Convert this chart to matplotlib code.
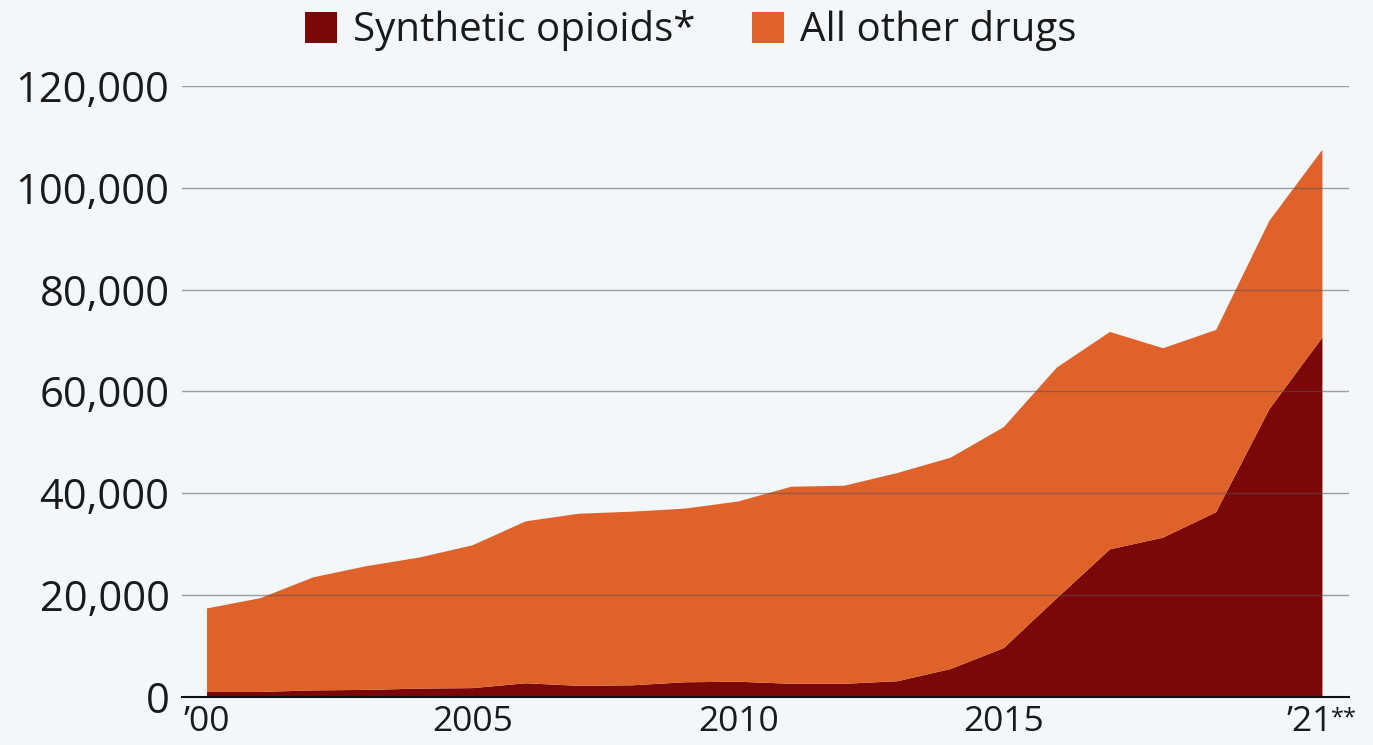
import matplotlib
matplotlib.use("Agg")
import matplotlib.pyplot as plt
import matplotlib.transforms as mtransforms
from matplotlib.patches import Patch
from matplotlib.ticker import FuncFormatter

plt.rcParams['font.family'] = ['Open Sans', 'DejaVu Sans']

years = list(range(2000, 2022))
synthetic = [1000, 1000, 1300, 1400, 1650, 1750, 2700, 2200, 2300, 2900, 3000,
             2600, 2600, 3100, 5500, 9600, 19400, 29000, 31300, 36300, 56500, 70600]
total = [17400, 19400, 23500, 25700, 27400, 29800, 34500, 36000, 36400, 37000, 38400,
         41300, 41500, 44000, 47000, 53000, 64700, 71700, 68500, 72100, 93500, 107500]
other = [t - s for t, s in zip(total, synthetic)]

series_names = ["Synthetic opioids*", "All other drugs"]
colors = ["#7c0708", "#e0622b"]
yticks = [0, 20000, 40000, 60000, 80000, 100000, 120000]
xticks = [2000, 2005, 2010, 2015, 2021]
xticklabels = ["\u201900", "2005", "2010", "2015", "\u201921"]
last_note = "**"

bg = "#f3f7fa"
fig = plt.figure(figsize=(13.73, 7.45), dpi=100, facecolor=bg)
ax = fig.add_axes([0.1326, 0.0644, 0.8499, 0.8202], facecolor=bg)

ax.stackplot(years, synthetic, other, colors=colors, linewidth=0, zorder=1)

ax.set_xlim(1999.53, 2021.5)
ax.set_ylim(0, 120000)
ax.set_yticks(yticks)
ax.set_xticks(xticks)
ax.set_xticklabels(xticklabels)
ax.yaxis.set_major_formatter(FuncFormatter(lambda v, p: f"{int(v):,}"))

for y in yticks[1:]:
    ax.axhline(y, color="#555555", linewidth=1.0, alpha=0.55, zorder=3)
ax.axhline(0, color="#111111", linewidth=1.5, zorder=4, clip_on=False)

for s in ax.spines.values():
    s.set_visible(False)
ax.tick_params(axis='both', length=0, colors="#1a1a1a")
ax.tick_params(axis='y', labelsize=30, pad=9)
ax.tick_params(axis='x', labelsize=25.5, pad=6)

# shift last tick label left to make room for the footnote marks
last_lbl = ax.get_xticklabels()[-1]
last_lbl.set_transform(last_lbl.get_transform() +
                       mtransforms.ScaledTranslation(-13 / 100, 0, fig.dpi_scale_trans))
ax.annotate(last_note, xy=(xticks[-1], 0), xycoords=('data', 'axes fraction'),
            xytext=(9, -9), textcoords='offset pixels', ha='left', va='top',
            fontsize=17, color="#1a1a1a", annotation_clip=False)

handles = [Patch(facecolor=c, edgecolor='none') for c in colors]
fig.legend(handles, series_names, loc='upper center', bbox_to_anchor=(0.503, 1.035),
           ncol=2, frameon=False, fontsize=29, handlelength=0.8, handleheight=0.8,
           handletextpad=0.4, columnspacing=1.4, labelcolor="#1a1a1a")

fig.savefig("out.png", dpi=100, facecolor=bg)
